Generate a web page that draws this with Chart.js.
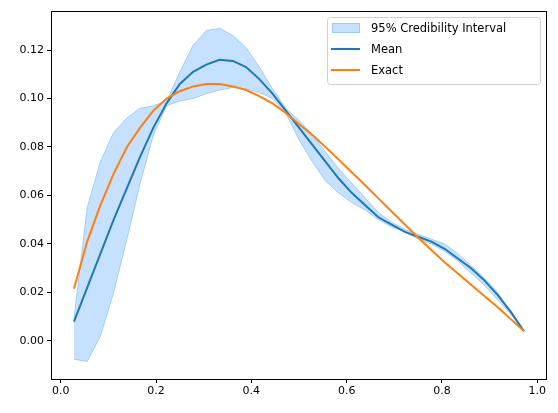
<!DOCTYPE html>
<html><head><meta charset="utf-8">
<script src="https://cdn.jsdelivr.net/npm/chart.js@4"></script>
<style>html,body{margin:0;padding:0;background:#fff}#c{display:block}</style>
</head><body>
<div style="width:558px;height:413px"><canvas id="c"></canvas></div>
<script>
const xs = [1,2,3,4,5,6,7,8,9,10,11,12,13,14,15,16,17,18,19,20,21,22,23,24,25,26,27,28,29,30,31,32,33,34,35].map(k=>k/36);
const meanVals = [0.008,0.022,0.036,0.050,0.063,0.076,0.088,0.098,0.106,0.111,0.114,0.116,0.1155,0.113,0.108,0.102,0.095,0.088,0.081,0.074,0.067,0.061,0.056,0.051,0.048,0.045,0.043,0.041,0.038,0.034,0.030,0.025,0.019,0.012,0.004];
const exactVals = [0.0215,0.041,0.056,0.069,0.080,0.088,0.095,0.100,0.103,0.105,0.106,0.106,0.105,0.1035,0.101,0.098,0.094,0.0895,0.085,0.080,0.0748,0.0695,0.0642,0.0588,0.0534,0.048,0.0427,0.0375,0.0325,0.0278,0.0232,0.0185,0.014,0.009,0.004];
const upperVals = [0.009,0.055,0.074,0.086,0.092,0.096,0.097,0.099,0.111,0.122,0.128,0.129,0.126,0.121,0.113,0.104,0.096,0.091,0.085,0.078,0.071,0.065,0.059,0.053,0.049,0.046,0.044,0.042,0.040,0.036,0.031,0.026,0.020,0.012,0.004];
const lowerVals = [-0.0075,-0.0085,0.002,0.020,0.042,0.065,0.085,0.097,0.099,0.100,0.102,0.1035,0.1045,0.104,0.1025,0.100,0.094,0.083,0.074,0.066,0.061,0.057,0.054,0.050,0.047,0.045,0.042,0.040,0.037,0.033,0.028,0.023,0.017,0.011,0.0035];
const xTicks = [0.0,0.2,0.4,0.6,0.8,1.0];
const yTicks = [0.00,0.02,0.04,0.06,0.08,0.10,0.12];
const legendLabels = ['95% Credibility Interval','Mean','Exact'];

const pts = v => v.map((y,i)=>({x:xs[i],y}));
const bandFill = 'rgba(140,195,252,0.5)';
const bandEdge = 'rgba(140,195,252,0.75)';
const FONT = '"DejaVu Sans", sans-serif';

const boxPlugin = {
  id:'box',
  afterDatasetsDraw(chart){
    const {ctx, chartArea:a} = chart;
    ctx.save();
    ctx.strokeStyle='#000'; ctx.lineWidth=1;
    ctx.strokeRect(Math.round(a.left)+0.5, Math.round(a.top)+0.5, Math.round(a.right-a.left), Math.round(a.bottom-a.top));
    const lx=327, ly=17, lw=213, lh=67;
    ctx.fillStyle='rgba(255,255,255,0.8)';
    ctx.strokeStyle='#d0d0d0';
    ctx.beginPath();
    if(ctx.roundRect) ctx.roundRect(lx+0.5,ly+0.5,lw,lh,3); else ctx.rect(lx+0.5,ly+0.5,lw,lh);
    ctx.fill(); ctx.stroke();
    ctx.font='11.5px '+FONT; ctx.textBaseline='middle'; ctx.fillStyle='#000';
    const rows=[28,49,70];
    ctx.fillStyle=bandFill; ctx.fillRect(332,rows[0]-5,28,10);
    ctx.strokeStyle=bandEdge; ctx.strokeRect(332.5,rows[0]-4.5,27,9);
    ctx.lineWidth=2;
    ctx.strokeStyle='#1f77b4'; ctx.beginPath(); ctx.moveTo(331,rows[1]); ctx.lineTo(360,rows[1]); ctx.stroke();
    ctx.strokeStyle='#ff7f0e'; ctx.beginPath(); ctx.moveTo(331,rows[2]); ctx.lineTo(360,rows[2]); ctx.stroke();
    ctx.fillStyle='#000';
    legendLabels.forEach((t,i)=>ctx.fillText(t,371,rows[i]+1));
    ctx.restore();
  }
};

new Chart(document.getElementById('c'),{
  type:'line',
  data:{datasets:[
    {label:'upper',data:pts(upperVals),fill:'+1',backgroundColor:bandFill,borderColor:bandEdge,borderWidth:1,pointRadius:0,order:3},
    {label:'lower',data:pts(lowerVals),fill:false,backgroundColor:bandFill,borderColor:bandEdge,borderWidth:1,pointRadius:0,order:3},
    {label:'Mean',data:pts(meanVals),borderColor:'#1f77b4',borderWidth:2,pointRadius:0,fill:false,order:2},
    {label:'Exact',data:pts(exactVals),borderColor:'#ff7f0e',borderWidth:2,pointRadius:0,fill:false,order:1}
  ]},
  options:{
    responsive:true,maintainAspectRatio:false,animation:false,
    layout:{padding:{top:11,right:12,left:0,bottom:0}},
    plugins:{legend:{display:false},tooltip:{enabled:false}},
    scales:{
      x:{type:'linear',min:-0.0204,max:1.0183,
        afterBuildTicks(ax){ax.ticks=xTicks.map(v=>({value:v}));},
        afterFit(ax){ax.height=34;},
        grid:{drawOnChartArea:false,drawTicks:true,tickLength:4,color:'#000'},
        border:{display:false},
        ticks:{color:'#000',font:{family:FONT,size:11},padding:2,maxRotation:0,callback:v=>v.toFixed(1)}},
      y:{type:'linear',min:-0.0157,max:0.1361,
        afterBuildTicks(ax){ax.ticks=yTicks.map(v=>({value:v}));},
        afterFit(ax){ax.width=51;},
        grid:{drawOnChartArea:false,drawTicks:true,tickLength:4,color:'#000'},
        border:{display:false},
        ticks:{color:'#000',font:{family:FONT,size:11},padding:3,callback:v=>v.toFixed(2)}}
    }
  },
  plugins:[boxPlugin]
});
</script>
</body></html>
